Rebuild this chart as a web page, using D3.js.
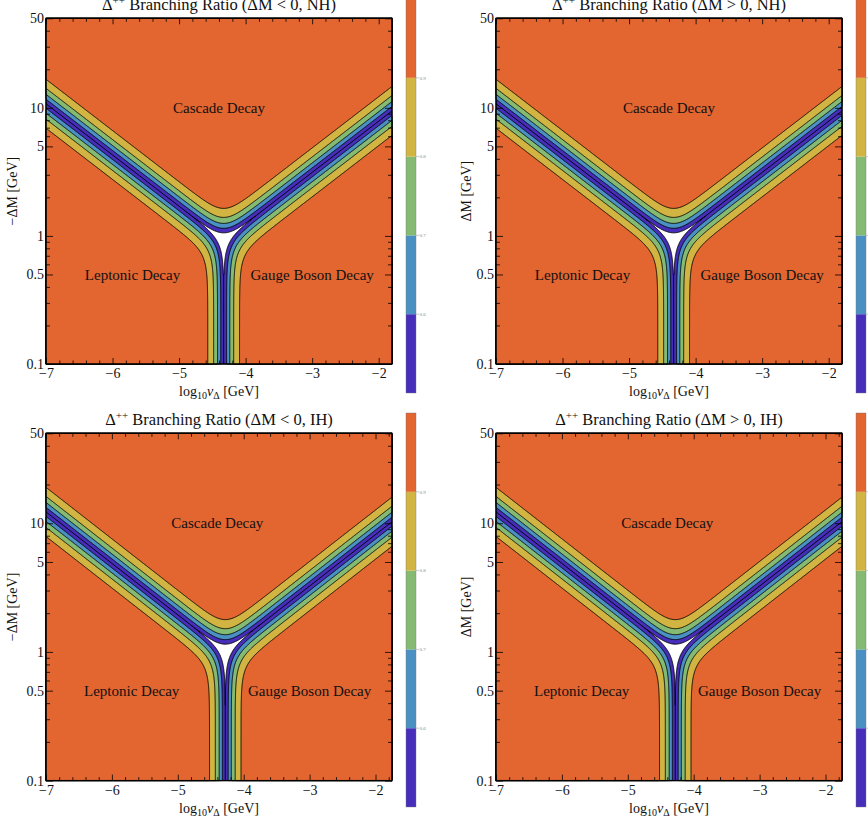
<!DOCTYPE html>
<html>
<head>
<meta charset="utf-8">
<script src="https://cdn.jsdelivr.net/npm/d3@7"></script>
<style>
  body { margin: 0; background: #fff; }
  text { font-family: "Liberation Serif", "Times New Roman", serif; fill: #111; }
</style>
</head>
<body>
<script>
const W = 868, H = 824;

// contour levels and colour bands (0.5-0.6 ... 0.9-1.0)
const levels = [0.5, 0.6, 0.7, 0.8, 0.9];
const bandColors = ["#462EBA", "#4B90C2", "#85BA72", "#D2B442", "#E36530"];
const barTicks = [0.6, 0.7, 0.8, 0.9];

const titles = ["(ΔM < 0, NH)", "(ΔM > 0, NH)", "(ΔM < 0, IH)", "(ΔM > 0, IH)"];
const yTitles = ["−ΔM [GeV]", "ΔM [GeV]", "−ΔM [GeV]", "ΔM [GeV]"];
const xTicks = [-7, -6, -5, -4, -3, -2];
const yTicks = [0.1, 0.5, 1, 5, 10, 50];
const yMinor = [0.2, 0.3, 0.4, 0.6, 0.7, 0.8, 0.9, 2, 3, 4, 6, 7, 8, 9, 20, 30, 40];
const xMin = -7;
const xMax = [-1.8, -1.8, -1.75, -1.75];
const yDomain = [0.1, 50];

// log10 vΔ where leptonic = gauge boson (centre of the stem)
const stemCenter = [-4.33, -4.33, -4.28, -4.28];
// ΔM [GeV] where all three channels meet
const tripleDM = [0.92, 0.92, 1.0, 1.0];
// widths: Γ_ll ∝ vΔ^-2, Γ_WW ∝ vΔ^2, Γ_cascade ∝ ΔM^5
const cascadePower = 5;

const regionNames = ["Cascade Decay", "Leptonic Decay", "Gauge Boson Decay"];
const regionX = [-4.4, -5.7, -3.0];
const regionY = [10, 0.5, 0.5];

// layout
const colLeft = [46, 496];
const yLabelOffset = [29, 25];
const rowTop = [18.3, 433.3];
const rowH = [345.7, 347.3];
const plotW = 346;
const barX = [406, 856];
const barTop = [-1, 413];
const barH = 394;

const svg = d3.select("body").append("svg").attr("width", W).attr("height", H);

function branching(x, dm, k) {
  const u = x - stemCenter[k];
  const w = Math.log10(dm) - Math.log10(tripleDM[k]);
  const gl = Math.pow(10, -2 * u);
  const gw = Math.pow(10, 2 * u);
  const gc = Math.pow(10, cascadePower * w);
  return Math.max(gl, gw, gc) / (gl + gw + gc);
}

for (let k = 0; k < 4; k++) {
  const col = k % 2, row = Math.floor(k / 2);
  const left = colLeft[col], top = rowTop[row], ph = rowH[row];
  const g = svg.append("g");

  const xScale = d3.scaleLinear().domain([xMin, xMax[k]]).range([left, left + plotW]);
  const yScale = d3.scaleLog().domain(yDomain).range([top + ph, top]);

  // sample the field on a grid in pixel space
  const nx = 520, ny = 520;
  const values = new Float64Array(nx * ny);
  for (let j = 0; j < ny; j++) {
    const dm = yScale.invert(top + (j + 0.5) * ph / ny);
    for (let i = 0; i < nx; i++) {
      const x = xScale.invert(left + (i + 0.5) * plotW / nx);
      values[j * nx + i] = branching(x, dm, k);
    }
  }
  const contours = d3.contours().size([nx, ny]).thresholds(levels)(values);
  const proj = d3.geoTransform({
    point: function (px, py) {
      this.stream.point(left + px * plotW / nx, top + py * ph / ny);
    }
  });
  const path = d3.geoPath(proj);

  g.append("rect").attr("x", left).attr("y", top).attr("width", plotW).attr("height", ph)
    .attr("fill", "#fff");

  g.append("g").selectAll("path").data(contours).join("path")
    .attr("d", path)
    .attr("fill", (d, i) => bandColors[i])
    .attr("stroke", "#000")
    .attr("stroke-width", 0.9)
    .attr("stroke-linejoin", "round");

  // ridge lines where two channels are equal, kept inside the >= 0.5 region
  const clipId = "clip" + k;
  g.append("clipPath").attr("id", clipId).append("path").attr("d", path(contours[0]));
  const line = d3.line().x(d => xScale(d[0])).y(d => yScale(d[1]));
  const pw = 2 / cascadePower;
  const ridges = [
    [[xMin, tripleDM[k] * Math.pow(10, pw * (stemCenter[k] - xMin))], [stemCenter[k], tripleDM[k]]],
    [[stemCenter[k], tripleDM[k]], [xMax[k], tripleDM[k] * Math.pow(10, pw * (xMax[k] - stemCenter[k]))]],
    [[stemCenter[k], yDomain[0]], [stemCenter[k], tripleDM[k]]]
  ];
  g.append("g").attr("clip-path", `url(#${clipId})`).selectAll("path").data(ridges).join("path")
    .attr("d", line).attr("fill", "none").attr("stroke", "#000").attr("stroke-width", 0.9);

  // region labels
  g.selectAll("text.region").data(regionNames).join("text")
    .attr("class", "region")
    .attr("x", (d, i) => xScale(regionX[i]))
    .attr("y", (d, i) => yScale(regionY[i]))
    .attr("dy", "0.35em")
    .attr("text-anchor", "middle")
    .attr("font-size", 15)
    .text(d => d);

  // axes with inward ticks
  const xMinorTicks = d3.range(-7, xMax[k] + 1e-9, 0.2).map(v => +v.toFixed(1)).filter(v => xTicks.indexOf(v) < 0);
  const addAxis = (axis, transform) => {
    const a = g.append("g").attr("transform", transform).call(axis);
    a.select(".domain").remove();
    a.selectAll("line").attr("stroke", "#000").attr("stroke-width", 0.8);
    a.selectAll("text").attr("font-size", 14)
      .style("font-family", "'Liberation Serif', serif").style("fill", "#111");
    return a;
  };
  addAxis(d3.axisBottom(xScale).tickValues(xTicks).tickSize(-6).tickPadding(4)
    .tickFormat(d3.format("d")), `translate(0,${top + ph})`);
  addAxis(d3.axisBottom(xScale).tickValues(xMinorTicks).tickSize(-3.5).tickFormat(""), `translate(0,${top + ph})`);
  addAxis(d3.axisTop(xScale).tickValues(xTicks).tickSize(-6).tickFormat(""), `translate(0,${top})`);
  addAxis(d3.axisTop(xScale).tickValues(xMinorTicks).tickSize(-3.5).tickFormat(""), `translate(0,${top})`);
  addAxis(d3.axisLeft(yScale).tickValues(yTicks).tickSize(-7).tickPadding(2)
    .tickFormat(d => String(d)), `translate(${left},0)`);
  addAxis(d3.axisLeft(yScale).tickValues(yMinor).tickSize(-4).tickFormat(""), `translate(${left},0)`);
  addAxis(d3.axisRight(yScale).tickValues(yTicks).tickSize(-7).tickFormat(""), `translate(${left + plotW},0)`);
  addAxis(d3.axisRight(yScale).tickValues(yMinor).tickSize(-4).tickFormat(""), `translate(${left + plotW},0)`);

  g.append("rect").attr("x", left).attr("y", top).attr("width", plotW).attr("height", ph)
    .attr("fill", "none").attr("stroke", "#000").attr("stroke-width", 1.3);

  // title
  const t = g.append("text").attr("x", left + plotW / 2).attr("y", top - 8)
    .attr("text-anchor", "middle").attr("font-size", 16.5);
  t.append("tspan").text("Δ");
  t.append("tspan").attr("font-size", 11).attr("dy", -6).text("++");
  t.append("tspan").attr("dy", 6).text(" Branching Ratio " + titles[k]);

  // x label
  const xl = g.append("text").attr("x", left + plotW / 2).attr("y", top + ph + 32)
    .attr("text-anchor", "middle").attr("font-size", 14);
  xl.append("tspan").text("log");
  xl.append("tspan").attr("font-size", 10).attr("dy", 3).text("10");
  xl.append("tspan").attr("font-style", "italic").attr("dy", -3).text("v");
  xl.append("tspan").attr("font-size", 10).attr("dy", 3).text("Δ");
  xl.append("tspan").attr("dy", -3).text(" [GeV]");

  // y label
  g.append("text")
    .attr("transform", `translate(${left - yLabelOffset[col]},${top + ph / 2}) rotate(-90)`)
    .attr("text-anchor", "middle").attr("font-size", 14)
    .text(yTitles[k]);

  // colour bar
  const bScale = d3.scaleLinear().domain([0.5, 1]).range([barTop[row] + barH, barTop[row]]);
  const bands = levels.map((v, i) => [v, i < levels.length - 1 ? levels[i + 1] : 1]);
  const bar = g.append("g");
  bar.selectAll("rect").data(bands).join("rect")
    .attr("x", barX[col]).attr("width", 10)
    .attr("y", d => bScale(d[1])).attr("height", d => bScale(d[0]) - bScale(d[1]))
    .attr("fill", (d, i) => bandColors[i]);
  bar.append("rect").attr("x", barX[col]).attr("y", barTop[row]).attr("width", 10).attr("height", barH)
    .attr("fill", "none").attr("stroke", "#777").attr("stroke-width", 0.4);
  bar.selectAll("line").data(barTicks).join("line")
    .attr("x1", barX[col] + 10).attr("x2", barX[col] + 13)
    .attr("y1", d => bScale(d)).attr("y2", d => bScale(d))
    .attr("stroke", "#999").attr("stroke-width", 0.5);
  bar.selectAll("text").data(barTicks).join("text")
    .attr("x", barX[col] + 13.5).attr("y", d => bScale(d)).attr("dy", "0.35em")
    .attr("font-size", 5).style("fill", "#888")
    .text(d => d.toFixed(1));
}
</script>
</body>
</html>
